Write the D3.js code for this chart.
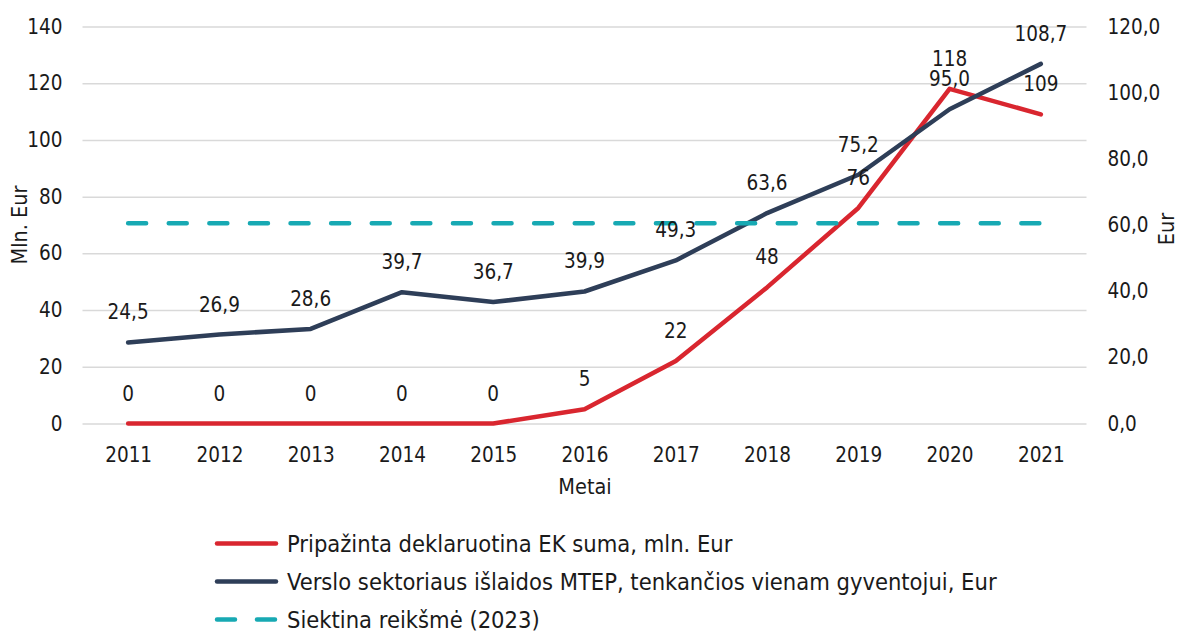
<!DOCTYPE html>
<html>
<head>
<meta charset="utf-8">
<script src="https://cdn.jsdelivr.net/npm/d3@7/dist/d3.min.js"></script>
<style>
  html, body { margin: 0; padding: 0; background: #ffffff; }
  svg { display: block; }
  text { font-family: "DejaVu Sans Condensed", "DejaVu Sans", sans-serif; fill: #1a1a1a; }
</style>
</head>
<body>
<svg id="chart" width="1179" height="632"></svg>
<script>
// ---- Data ----
const years = ["2011","2012","2013","2014","2015","2016","2017","2018","2019","2020","2021"];
const declaredSum = [0, 0, 0, 0, 0, 5, 22, 48, 76, 118, 109];                 // mln. Eur (left axis)
const businessRnD = [24.5, 26.9, 28.6, 39.7, 36.7, 39.9, 49.3, 63.6, 75.2, 95.0, 108.7]; // Eur (right axis)
const targetValue = 60.5;                                                      // Eur (right axis)
const leftTicks = [0, 20, 40, 60, 80, 100, 120, 140];
const rightTicks = [0, 20, 40, 60, 80, 100, 120];
const seriesNames = [
  "Pripažinta deklaruotina EK suma, mln. Eur",
  "Verslo sektoriaus išlaidos MTEP, tenkančios vienam gyventojui, Eur",
  "Siektina reikšmė (2023)"
];
const colors = { red: "#d9262f", navy: "#2e3e58", teal: "#17a9b3" };

// ---- Layout ----
const svg = d3.select("#chart");
const plot = { left: 82.5, right: 1086.5, top: 26.5, bottom: 423.5 };
const numFont = "20.5px";

const x = d3.scalePoint().domain(years).range([plot.left, plot.right]).padding(0.5);
const yL = d3.scaleLinear().domain([0, 140]).range([plot.bottom, plot.top]);
const yR = d3.scaleLinear().domain([0, 120]).range([plot.bottom, plot.top]);
const fmt1 = d => d.toFixed(1).replace(".", ",");

// gridlines
const grid = svg.append("g").attr("transform", `translate(${plot.left},0)`)
  .call(d3.axisLeft(yL).tickValues(leftTicks).tickSize(-(plot.right - plot.left)).tickFormat(""));
grid.select(".domain").remove();
grid.selectAll("line").attr("stroke", "#d9d9d9").attr("stroke-width", 1.5);

// left axis
const gL = svg.append("g").attr("transform", `translate(${plot.left},0)`)
  .call(d3.axisLeft(yL).tickValues(leftTicks).tickSize(0).tickPadding(20));
gL.select(".domain").remove();
gL.selectAll("text").style("font-size", numFont).attr("fill", "#1a1a1a")
  .style("font-family", '"DejaVu Sans Condensed", sans-serif');

// right axis
const gR = svg.append("g").attr("transform", `translate(${plot.right},0)`)
  .call(d3.axisRight(yR).tickValues(rightTicks).tickSize(0).tickPadding(21).tickFormat(fmt1));
gR.select(".domain").remove();
gR.selectAll("text").style("font-size", numFont).attr("fill", "#1a1a1a")
  .style("font-family", '"DejaVu Sans Condensed", sans-serif');

// bottom axis
const gB = svg.append("g").attr("transform", `translate(0,${plot.bottom})`)
  .call(d3.axisBottom(x).tickSize(0).tickPadding(23.5));
gB.select(".domain").remove();
gB.selectAll("text").style("font-size", numFont).attr("fill", "#1a1a1a")
  .style("font-family", '"DejaVu Sans Condensed", sans-serif');

// axis titles
svg.append("text").attr("x", 585).attr("y", 494).attr("text-anchor", "middle")
  .style("font-size", "21.5px").text("Metai");
svg.append("text").attr("transform", "translate(27,225) rotate(-90)").attr("text-anchor", "middle")
  .style("font-size", "21.5px").text("Mln. Eur");
svg.append("text").attr("transform", "translate(1174,229) rotate(-90)").attr("text-anchor", "middle")
  .style("font-size", "21.5px").text("Eur");

// lines
const lineL = d3.line().x((d, i) => x(years[i])).y(d => yL(d));
const lineR = d3.line().x((d, i) => x(years[i])).y(d => yR(d));

svg.append("path").datum(declaredSum).attr("d", lineL)
  .attr("fill", "none").attr("stroke", colors.red).attr("stroke-width", 4.5)
  .attr("stroke-linejoin", "round").attr("stroke-linecap", "round");

svg.append("path").datum(businessRnD).attr("d", lineR)
  .attr("fill", "none").attr("stroke", colors.navy).attr("stroke-width", 4.5)
  .attr("stroke-linejoin", "round").attr("stroke-linecap", "round");

svg.append("path").datum(years.map(() => targetValue)).attr("d", lineR)
  .attr("fill", "none").attr("stroke", colors.teal).attr("stroke-width", 4.5)
  .attr("stroke-dasharray", "18,22.6").attr("stroke-linecap", "round");

// data labels
svg.append("g").selectAll("text").data(declaredSum).join("text")
  .attr("x", (d, i) => x(years[i])).attr("y", d => yL(d) - 23)
  .attr("text-anchor", "middle").style("font-size", numFont)
  .text(d => d);

svg.append("g").selectAll("text").data(businessRnD).join("text")
  .attr("x", (d, i) => x(years[i])).attr("y", d => yR(d) - 23)
  .attr("text-anchor", "middle").style("font-size", numFont)
  .text(d => fmt1(d));

// legend
const legendRows = [
  { name: seriesNames[0], color: colors.red, dash: null, y: 543.5 },
  { name: seriesNames[1], color: colors.navy, dash: null, y: 581.5 },
  { name: seriesNames[2], color: colors.teal, dash: "18,22", y: 619.5 }
];
const lg = svg.append("g");
legendRows.forEach(r => {
  lg.append("line").attr("x1", 217).attr("x2", 276).attr("y1", r.y).attr("y2", r.y)
    .attr("stroke", r.color).attr("stroke-width", 4.5).attr("stroke-linecap", "round")
    .attr("stroke-dasharray", r.dash);
  lg.append("text").attr("x", 287).attr("y", r.y + 8).style("font-size", "23.5px").text(r.name);
});
</script>
</body>
</html>
